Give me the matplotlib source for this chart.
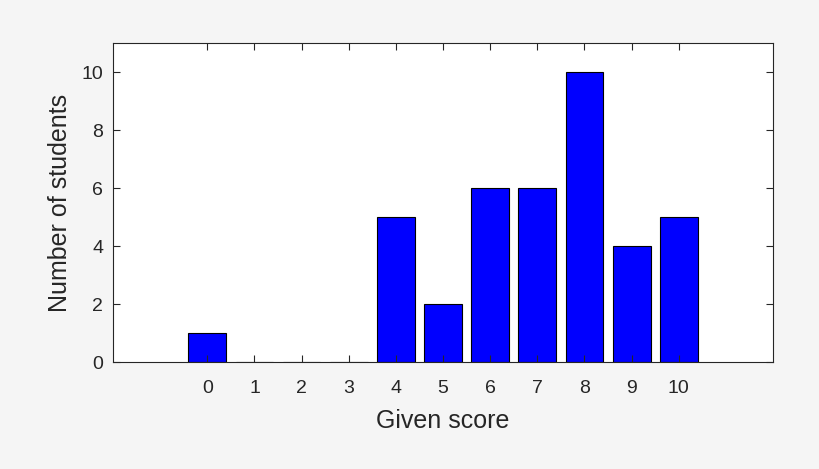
import numpy as np
import matplotlib.pyplot as plt

plt.rcParams['font.family'] = ['Liberation Sans', 'DejaVu Sans']

# данные: оценка -> число студентов
scores = [0, 1, 2, 3, 4, 5, 6, 7, 8, 9, 10]
students = [1, 0, 0, 0, 5, 2, 6, 6, 10, 4, 5]

fig = plt.figure(figsize=(8.2, 4.69), dpi=100, facecolor='#f5f5f5')
ax = fig.add_axes([0.1378, 0.2281, 0.805, 0.6802])

ax.bar(scores, students, width=0.8, color='#0000ff', edgecolor='black', linewidth=0.8)

ax.set_xlim(-2, 12)
ax.set_ylim(0, 11)
ax.set_xticks(scores)
ax.set_yticks([0, 2, 4, 6, 8, 10])
ax.tick_params(direction='in', top=True, right=True, length=5, width=0.8,
               color='#262626', labelsize=14, labelcolor='#262626')
ax.tick_params(axis='x', pad=13)
ax.tick_params(axis='y', pad=7)
for s in ax.spines.values():
    s.set_color('#262626')
    s.set_linewidth(0.8)

ax.set_xlabel('Given score', fontsize=18, color='#262626', labelpad=8.5)
ax.set_ylabel('Number of students', fontsize=18, color='#262626', labelpad=7)

fig.savefig('out.png', dpi=100, facecolor=fig.get_facecolor())
